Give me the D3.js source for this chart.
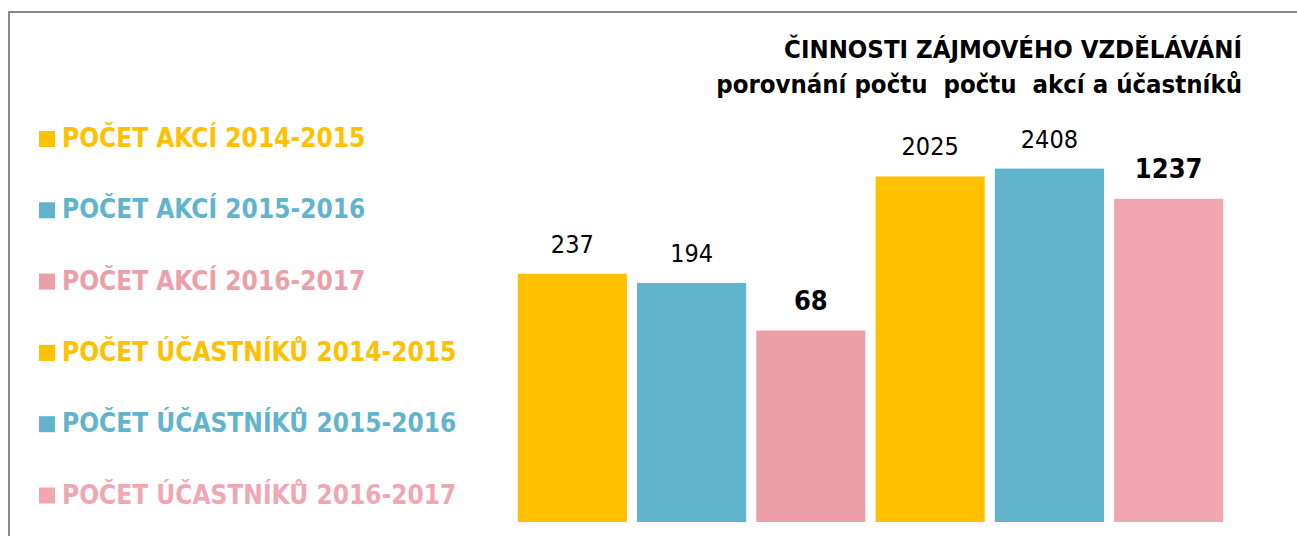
<!DOCTYPE html>
<html>
<head>
<meta charset="utf-8">
<script src="https://cdn.jsdelivr.net/npm/d3@7"></script>
<style>
  body { margin: 0; background: #fff; }
  text { font-family: "DejaVu Sans Condensed", "Noto Sans", sans-serif; white-space: pre; }
</style>
</head>
<body>
<div id="chart"></div>
<script>
// Data
const categories = [
  "POČET AKCÍ 2014-2015",
  "POČET AKCÍ 2015-2016",
  "POČET AKCÍ 2016-2017",
  "POČET ÚČASTNÍKŮ 2014-2015",
  "POČET ÚČASTNÍKŮ 2015-2016",
  "POČET ÚČASTNÍKŮ 2016-2017"
];
const values = [237, 194, 68, 2025, 2408, 1237];
const boldLabels = [false, false, true, false, false, true];
const colors = ["#FFC000", "#61B4CC", "#EBA0A8", "#FFC000", "#61B4CC", "#F0A7B1"];
const titleLines = ["ČINNOSTI ZÁJMOVÉHO VZDĚLÁVÁNÍ", "porovnání počtu  počtu  akcí a účastníků"];

const width = 1297, height = 536;

const svg = d3.select("#chart").append("svg")
  .attr("width", width)
  .attr("height", height);

// rámeček
svg.append("path")
  .attr("d", `M9,${height} V12 H${width}`)
  .attr("fill", "none")
  .attr("stroke", "#888")
  .attr("stroke-width", 2);

// škály (logaritmická osa)
const x = d3.scaleBand()
  .domain(categories)
  .range([513, 1228])
  .paddingInner(0.085)
  .paddingOuter(0.04);

const y = d3.scaleLog()
  .domain([1, 10000])
  .range([522, 104]);

// sloupce
svg.selectAll("rect.bar")
  .data(categories)
  .join("rect")
  .attr("class", "bar")
  .attr("x", d => x(d))
  .attr("y", (d, i) => y(values[i]))
  .attr("width", x.bandwidth())
  .attr("height", (d, i) => y(1) - y(values[i]))
  .attr("fill", (d, i) => colors[i]);

// popisky hodnot
svg.selectAll("text.val")
  .data(categories)
  .join("text")
  .attr("class", "val")
  .attr("x", d => x(d) + x.bandwidth() / 2)
  .attr("y", (d, i) => y(values[i]) - 21)
  .attr("text-anchor", "middle")
  .attr("font-size", (d, i) => boldLabels[i] ? 27 : 25)
  .attr("font-weight", (d, i) => boldLabels[i] ? "bold" : "normal")
  .attr("fill", "#000")
  .text((d, i) => values[i]);

// titulek
svg.selectAll("text.title")
  .data(titleLines)
  .join("text")
  .attr("class", "title")
  .attr("x", 1242)
  .attr("y", (d, i) => 58 + i * 35)
  .attr("text-anchor", "end")
  .attr("font-size", 25.5)
  .attr("font-weight", "bold")
  .attr("fill", "#000")
  .text(d => d);

// legenda
const legend = svg.append("g");
const row = legend.selectAll("g")
  .data(categories)
  .join("g")
  .attr("transform", (d, i) => `translate(39, ${147 + i * 71.3})`);

row.append("rect")
  .attr("x", 0)
  .attr("y", -16)
  .attr("width", 16)
  .attr("height", 16)
  .attr("fill", (d, i) => colors[i]);

row.append("text")
  .attr("x", 23)
  .attr("y", 0)
  .attr("font-size", 26)
  .attr("font-weight", "bold")
  .attr("fill", (d, i) => colors[i])
  .text(d => d);
</script>
</body>
</html>
